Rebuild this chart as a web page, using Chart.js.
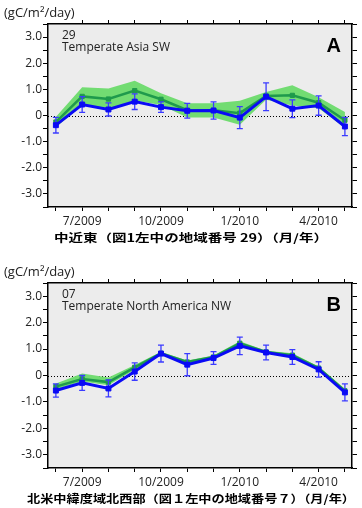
<!DOCTYPE html>
<html>
<head>
<meta charset="utf-8">
<script src="https://cdn.jsdelivr.net/npm/chart.js@4/dist/chart.umd.min.js"></script>
<style>
  html, body { margin: 0; padding: 0; background: #fff; }
  .panel { width: 362px; height: 254px; }
</style>
</head>
<body>
<div class="panel"><canvas id="chartA" width="362" height="254"></canvas></div>
<div class="panel"><canvas id="chartB" width="362" height="254"></canvas></div>
<script>
// months along the x axis, and which of them get a label
const months = ['6/2009', '7/2009', '8/2009', '9/2009', '10/2009', '11/2009',
                '12/2009', '1/2010', '2/2010', '3/2010', '4/2010', '5/2010'];
const tickMonths = ['7/2009', '10/2009', '1/2010', '4/2010'];

// panel A : 29 Temperate Asia SW
const aGreen  = [-0.25, 0.73, 0.63, 0.95, 0.62, 0.20, 0.20, 0.09, 0.75, 0.77, 0.49, -0.18];
const aBandHi = [-0.05, 1.08, 1.03, 1.33, 0.85, 0.47, 0.47, 0.56, 0.90, 1.16, 0.70, 0.13];
const aBandLo = [-0.45, 0.40, 0.25, 0.57, 0.40, -0.08, -0.08, -0.35, 0.60, 0.38, 0.28, -0.48];
const aBlue   = [-0.37, 0.42, 0.23, 0.53, 0.32, 0.18, 0.19, -0.08, 0.72, 0.26, 0.38, -0.42];
const aErr    = [0.30, 0.30, 0.25, 0.30, 0.20, 0.28, 0.33, 0.42, 0.53, 0.34, 0.37, 0.35];

// panel B : 07 Temperate North America NW
const bGreen  = [-0.42, -0.13, -0.25, 0.31, 0.84, 0.51, 0.70, 1.22, 0.89, 0.77, 0.28, -0.58];
const bBandHi = [-0.30, 0.08, -0.08, 0.40, 0.90, 0.57, 0.76, 1.30, 0.94, 0.84, 0.34, -0.50];
const bBandLo = [-0.52, -0.23, -0.37, 0.22, 0.78, 0.45, 0.64, 1.14, 0.84, 0.70, 0.22, -0.66];
const bBlue   = [-0.57, -0.28, -0.49, 0.15, 0.83, 0.41, 0.66, 1.12, 0.87, 0.70, 0.23, -0.64];
const bErr    = [0.25, 0.28, 0.32, 0.33, 0.32, 0.42, 0.24, 0.33, 0.28, 0.28, 0.29, 0.32];

const BLUE = '#0a0af5';
const GREEN = '#1f9a4c';
const BAND = '#72dc72';

// background, zero line, error bars and the panel texts
const panelDeco = {
  id: 'panelDeco',
  beforeDraw(chart) {
    const { ctx, chartArea: a } = chart;
    ctx.save();
    ctx.fillStyle = '#ececec';
    ctx.fillRect(a.left, a.top, a.width, a.height);
    ctx.restore();
  },
  beforeDatasetsDraw(chart) {
    const { ctx, chartArea: a, scales: { y } } = chart;
    const y0 = Math.round(y.getPixelForValue(0)) + 0.5;
    ctx.save();
    ctx.strokeStyle = '#000';
    ctx.lineWidth = 1;
    ctx.setLineDash([1, 2]);
    ctx.beginPath();
    ctx.moveTo(a.left, y0);
    ctx.lineTo(a.right, y0);
    ctx.stroke();
    ctx.restore();
  },
  afterDatasetDraw(chart, args, o) {
    if (args.index !== 1) return; // after the green line, under the blue one
    const { ctx, scales: { x, y } } = chart;
    ctx.save();
    ctx.strokeStyle = '#3b3bff';
    ctx.lineWidth = 1.3;
    o.blue.forEach((v, i) => {
      const px = x.getPixelForValue(i);
      const top = y.getPixelForValue(v + o.err[i]);
      const bot = y.getPixelForValue(v - o.err[i]);
      ctx.beginPath();
      ctx.moveTo(px, top); ctx.lineTo(px, bot);
      ctx.moveTo(px - 3, top); ctx.lineTo(px + 3, top);
      ctx.moveTo(px - 3, bot); ctx.lineTo(px + 3, bot);
      ctx.stroke();
    });
    ctx.restore();
  },
  afterDraw(chart, args, o) {
    const { ctx, chartArea: a } = chart;
    ctx.save();
    ctx.fillStyle = '#222';
    ctx.textBaseline = 'middle';
    ctx.font = '13px "Open Sans"';
    ctx.fillText('(gC/m²/day)', 4, a.top - 11);
    ctx.font = '12px "Open Sans"';
    ctx.fillText(o.num, a.left + 14, a.top + 12);
    ctx.fillText(o.region, a.left + 14, a.top + 24);
    ctx.fillStyle = '#000';
    ctx.font = 'bold 20px "Liberation Sans"';
    ctx.textAlign = 'right';
    ctx.textBaseline = 'alphabetic';
    ctx.fillText(o.letter, a.right - 11, a.top + 28);
    // caption, drawn wide as in the original
    ctx.font = 'bold 11px "Noto Sans CJK JP"';
    ctx.textAlign = 'center';
    ctx.textBaseline = 'middle';
    const sx = o.capWidth / ctx.measureText(o.caption).width;
    ctx.translate(191, a.bottom + 31);
    ctx.scale(sx, 1);
    ctx.fillText(o.caption, 0, 0);
    ctx.restore();
  }
};

function makePanel(id, p) {
  const pts = arr => arr.map((v, i) => ({ x: i, y: v }));
  const xMin = -0.3, xMax = 11.27;
  const tickFont = { family: 'Open Sans', size: 12 };
  const grid = { drawOnChartArea: false, tickLength: 5, tickColor: '#000', tickWidth: 1 };
  const border = { color: '#000', width: 1.5 };
  const yLabel = v => v === 0 ? '0' : (Number.isInteger(v) ? v.toFixed(1) : '');

  return new Chart(document.getElementById(id), {
    type: 'line',
    data: {
      datasets: [
        { data: pts(p.blue), borderColor: BLUE, backgroundColor: BLUE, borderWidth: 3,
          pointStyle: 'rect', pointRadius: 3.5, pointBorderWidth: 1, tension: 0, order: 0 },
        { data: pts(p.green), borderColor: GREEN, backgroundColor: GREEN, borderWidth: 2.5,
          pointStyle: 'rect', pointRadius: 3, pointBorderWidth: 1, tension: 0, order: 1 },
        { data: pts(p.hi), borderWidth: 0, pointRadius: 0, fill: '+1', backgroundColor: BAND, order: 2 },
        { data: pts(p.lo), borderWidth: 0, pointRadius: 0, fill: false, order: 3 }
      ]
    },
    options: {
      responsive: false,
      animation: false,
      layout: { padding: 0 },
      plugins: {
        legend: { display: false },
        tooltip: { enabled: false },
        panelDeco: { blue: p.blue, err: p.err, num: p.num, region: p.region,
                     letter: p.letter, caption: p.caption, capWidth: p.capWidth }
      },
      scales: {
        x: {
          type: 'linear', position: 'bottom', min: xMin, max: xMax,
          afterBuildTicks: s => { s.ticks = months.map((m, i) => ({ value: i })); },
          afterFit: s => { s.height = p.bottomH; },
          ticks: { autoSkip: false, maxRotation: 0, padding: 3, color: '#222', font: tickFont,
                   callback: v => tickMonths.includes(months[v]) ? months[v] : '' },
          grid: { ...grid, tickLength: 4 }, border
        },
        xTop: {
          type: 'linear', position: 'top', min: xMin, max: xMax,
          afterBuildTicks: s => { s.ticks = months.slice(1).map((m, i) => ({ value: i + 1 })); },
          afterFit: s => { s.height = p.topH; },
          ticks: { display: false },
          grid: { ...grid, tickLength: 4 }, border
        },
        y: {
          position: 'left', min: -3.5, max: 3.5,
          afterFit: s => { s.width = 48; },
          ticks: { stepSize: 0.5, autoSkip: false, padding: 1, color: '#222', font: tickFont, callback: yLabel },
          grid, border
        },
        yRight: {
          position: 'right', min: -3.5, max: 3.5,
          afterFit: s => { s.width = 10; },
          ticks: { stepSize: 0.5, autoSkip: false, display: false },
          grid, border
        }
      }
    },
    plugins: [panelDeco]
  });
}

makePanel('chartA', {
  green: aGreen, hi: aBandHi, lo: aBandLo, blue: aBlue, err: aErr,
  num: '29', region: 'Temperate Asia SW', letter: 'A',
  caption: '中近東（図1左中の地域番号 29）（月/年）', capWidth: 274,
  topH: 24, bottomH: 47
});

makePanel('chartB', {
  green: bGreen, hi: bBandHi, lo: bBandLo, blue: bBlue, err: bErr,
  num: '07', region: 'Temperate North America NW', letter: 'B',
  caption: '北米中緯度域北西部（図１左中の地域番号７）（月/年）', capWidth: 328,
  topH: 29, bottomH: 40
});
</script>
</body>
</html>
